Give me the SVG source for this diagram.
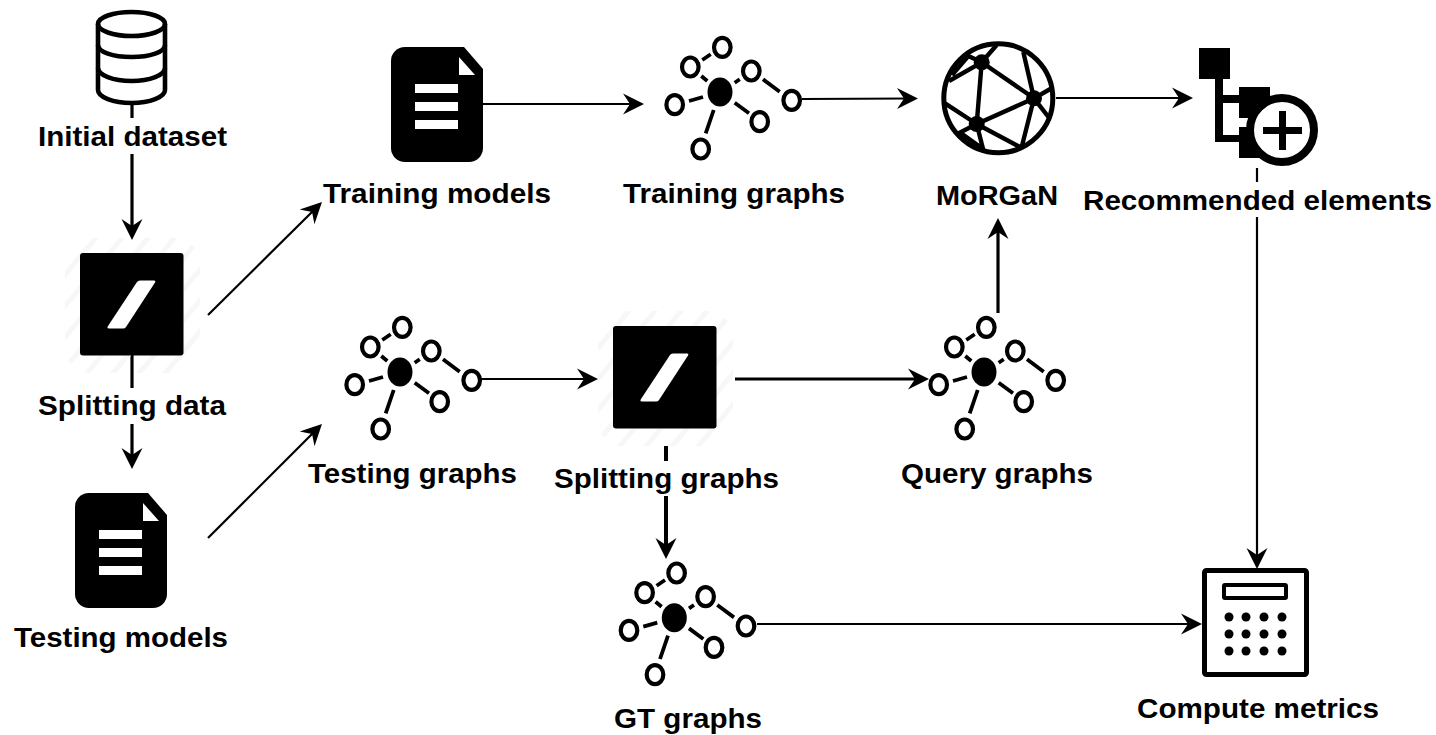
<svg xmlns="http://www.w3.org/2000/svg" width="1436" height="735" viewBox="0 0 1436 735">
<style>
text{font-family:"Liberation Sans",Arial,sans-serif;font-weight:700;font-size:27px;fill:#000}
.c{fill:none;stroke:#000;stroke-width:2.2}
.t{stroke-width:3.2}
.r{fill:none;stroke:#000;stroke-width:4.2}
.s{fill:none;stroke:#000;stroke-width:3.8}
.db{fill:none;stroke:#000;stroke-width:4.6}
.g{fill:none;stroke:#000;stroke-width:4.4}
.g2{fill:none;stroke:#000;stroke-width:5}
</style>
<defs>
<marker id="a" markerUnits="userSpaceOnUse" markerWidth="24" markerHeight="24" viewBox="-22 -12 24 24" refX="-8" refY="0" orient="auto" overflow="visible"><path d="M0,0L-21,-10.500L-14,0L-21,10.500Z" fill="#000"/></marker>
<pattern id="h" width="20" height="20" patternUnits="userSpaceOnUse" patternTransform="rotate(40)"><rect width="5" height="20" fill="#f7f7f7"/></pattern>
<g id="graph">
<ellipse cx="0" cy="0" rx="12.500" ry="14.500" fill="#000"/>
<g class="r"><ellipse cx="2.300" cy="-44.700" rx="8.300" ry="9.500"/><ellipse cx="-29.700" cy="-25" rx="8.300" ry="9.500"/><ellipse cx="31.300" cy="-21" rx="8.300" ry="9.500"/><ellipse cx="-45.300" cy="12.700" rx="8.300" ry="9.500"/><ellipse cx="71.700" cy="8.300" rx="8.300" ry="9.500"/><ellipse cx="39.700" cy="29.700" rx="8.300" ry="9.500"/><ellipse cx="-19.300" cy="57" rx="8.300" ry="9.500"/></g>
<path class="s" d="M-17.700,-32L-9.300,-37.700M-18.700,-16L-12.700,-11M14.700,-9.300L19.700,-12.700M43,-12.700L59.700,-.3M-31,9L-17,5M14.700,10.700L29,21.300M-6.300,18L-14.300,41.300"/>
</g>
<g id="doc">
<path d="M405,47H464L483,69V148A14,14 0 0 1 469,162H405A14,14 0 0 1 391,148V61A14,14 0 0 1 405,47Z" fill="#000"/>
<path d="M459,57V75H475Z" fill="#fff"/>
<path d="M415,84h43v9h-43zM415,102h43v9h-43zM415,120h43v9h-43z" fill="#fff"/>
</g>
<g id="split">
<path d="M-3,-15H105L120,0V105L105,120H0L-15,105V-3Z" fill="url(#h)"/>
<rect x="0" y="0" width="103.500" height="102.500" rx="3" fill="#000"/>
<path d="M60,27.500H74Q76,27.500 75,29.500L46,74Q45,75.500 43,75.500H29Q26.500,75.500 28,73L57,29Q58,27.500 60,27.500Z" fill="#fff"/>
</g>
</defs>

<g id="connectors">
<path class="c t" d="M132,105V118"/>
<path class="c t" d="M132,154V232" marker-end="url(#a)"/>
<path class="c t" d="M132,355V388"/>
<path class="c t" d="M132,424V461" marker-end="url(#a)"/>
<path class="c" d="M208,315L316.300,207.700" marker-end="url(#a)"/>
<path class="c" d="M208,538L316.300,429.700" marker-end="url(#a)"/>
<path class="c" d="M483,104H636" marker-end="url(#a)"/>
<path class="c" d="M802,99L910,98.500" marker-end="url(#a)"/>
<path class="c" d="M1056,98H1185" marker-end="url(#a)"/>
<path class="c" d="M1257,168V182"/>
<path class="c" d="M1257,217V561" marker-end="url(#a)"/>
<path class="c" d="M481,379H590" marker-end="url(#a)"/>
<path class="c t" d="M735,379H921" marker-end="url(#a)"/>
<path class="c t" d="M998,313V226" marker-end="url(#a)"/>
<path class="c" style="stroke-width:4" d="M666,446V461"/>
<path class="c" style="stroke-width:4" d="M666,496V551" marker-end="url(#a)"/>
<path class="c" d="M757,624H1194" marker-end="url(#a)"/>
</g>

<g id="initial-dataset">
<g class="db"><path d="M98,24V90C98,97 113,103 131.500,103S165,97 165,90V24"/><ellipse cx="131.500" cy="24" rx="33.500" ry="12"/><path d="M98,45C98,52 113,57 131.500,57S165,52 165,45M98,68C98,75 113,81 131.500,81S165,75 165,68"/></g>
<text x="38" y="146" textLength="189" lengthAdjust="spacingAndGlyphs">Initial dataset</text>
</g>
<g id="splitting-data">
<use href="#split" x="80" y="253"/>
<text x="38" y="415" textLength="188" lengthAdjust="spacingAndGlyphs">Splitting data</text>
</g>
<g id="testing-models">
<use href="#doc" x="-316" y="446"/>
<text x="14" y="647" textLength="214" lengthAdjust="spacingAndGlyphs">Testing models</text>
</g>
<g id="training-models">
<use href="#doc"/>
<text x="323" y="203" textLength="228" lengthAdjust="spacingAndGlyphs">Training models</text>
</g>
<g id="training-graphs">
<use href="#graph" x="720" y="92"/>
<text x="623" y="203" textLength="222" lengthAdjust="spacingAndGlyphs">Training graphs</text>
</g>
<g id="morgan">
<circle cx="998.300" cy="98.300" r="54.500" class="g2"/>
<circle cx="981.700" cy="62.300" r="8" fill="#000"/><circle cx="1034" cy="98.300" r="8" fill="#000"/><circle cx="976.700" cy="124" r="8" fill="#000"/>
<path class="g" d="M981.700,62.300L1034,98.300L976.700,124ZM981.700,62.300L996.700,45M981.700,62.300L968.300,56L952,75M981.700,62.300L949,81M1034,98.300L1023.300,52M1034,98.300L1052,88M1034,98.300L1050,119M1034,98.300L1021.700,147M976.700,124L945,103.300M976.700,124L983.300,150M976.700,124L1020,147M976.700,124L960,132.500L981,147.500"/>
<text x="936" y="205" textLength="122" lengthAdjust="spacingAndGlyphs">MoRGaN</text>
</g>
<g id="recommended-elements">
<path d="M1199,48h31v31h-31zM1215,79h8v16h16v8h-16v32h16v7h-24zM1239,87h31v31h-31zM1239,127h31v31h-31z" fill="#000"/>
<circle cx="1282" cy="130" r="32" fill="#fff" stroke="#000" stroke-width="8"/>
<path d="M1263,127h16v-16h7v16h16v7h-16v16h-7v-16h-16z" fill="#000"/>
<text x="1083" y="210" textLength="349" lengthAdjust="spacingAndGlyphs">Recommended elements</text>
</g>
<g id="testing-graphs">
<use href="#graph" x="400" y="372"/>
<text x="308" y="483" textLength="209" lengthAdjust="spacingAndGlyphs">Testing graphs</text>
</g>
<g id="splitting-graphs">
<use href="#split" x="613" y="326"/>
<text x="554" y="488" textLength="225" lengthAdjust="spacingAndGlyphs">Splitting graphs</text>
</g>
<g id="query-graphs">
<use href="#graph" x="984" y="372"/>
<text x="901" y="483" textLength="192" lengthAdjust="spacingAndGlyphs">Query graphs</text>
</g>
<g id="gt-graphs">
<use href="#graph" x="674.300" y="617.700"/>
<text x="614" y="728" textLength="148" lengthAdjust="spacingAndGlyphs">GT graphs</text>
</g>
<g id="compute-metrics">
<rect x="1204.500" y="570.500" width="102" height="104" rx="2" fill="#fff" stroke="#000" stroke-width="5"/>
<rect x="1224" y="585" width="62" height="13" rx="1" fill="#fff" stroke="#000" stroke-width="4"/>
<g fill="#000"><circle cx="1229" cy="617" r="4.500"/><circle cx="1246" cy="617" r="4.500"/><circle cx="1264" cy="617" r="4.500"/><circle cx="1282" cy="617" r="4.500"/><circle cx="1229" cy="634" r="4.500"/><circle cx="1246" cy="634" r="4.500"/><circle cx="1264" cy="634" r="4.500"/><circle cx="1282" cy="634" r="4.500"/><circle cx="1229" cy="651" r="4.500"/><circle cx="1246" cy="651" r="4.500"/><circle cx="1264" cy="651" r="4.500"/><circle cx="1282" cy="651" r="4.500"/></g>
<text x="1137" y="718" textLength="242" lengthAdjust="spacingAndGlyphs">Compute metrics</text>
</g>
</svg>
